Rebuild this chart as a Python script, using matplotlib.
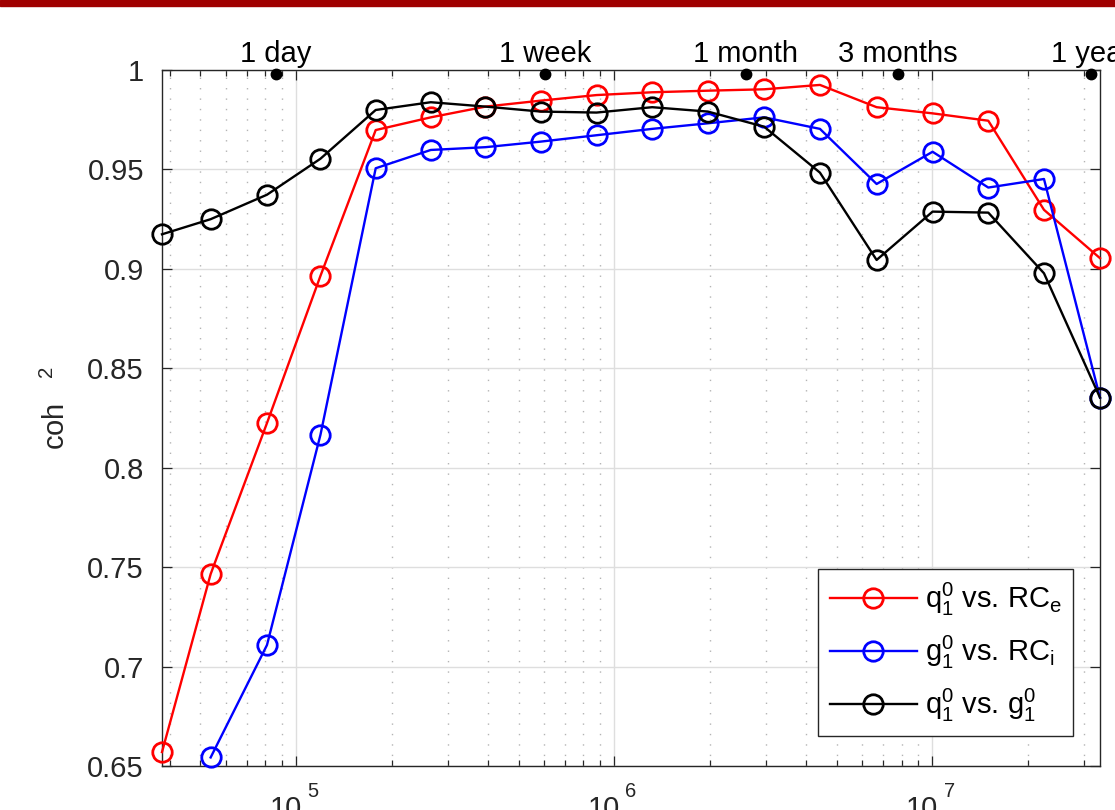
import matplotlib
matplotlib.use("Agg")
import matplotlib.pyplot as plt
import matplotlib.transforms as mtransforms
import numpy as np
from matplotlib.patches import Rectangle
from matplotlib.ticker import LogLocator, NullFormatter, NullLocator

# Périodes des bandes (s)
periodes = [37860, 53840, 80940, 119200, 177800, 264900, 393600, 587300,
            879100, 1315000, 1968000, 2958000, 4430000, 6676000,
            10010000, 14980000, 22420000, 33630000]

# Cohérence au carré pour chaque couple
coh_q_rce = [0.657, 0.7465, 0.8224, 0.8964, 0.9697, 0.9761, 0.9815, 0.9845,
             0.9873, 0.9887, 0.9895, 0.9902, 0.9924, 0.9812, 0.9781, 0.9744,
             0.9296, 0.9053]
coh_g_rci = [np.nan, 0.6543, 0.7108, 0.8165, 0.9505, 0.9597, 0.9611, 0.9639,
             0.9671, 0.9703, 0.9731, 0.9761, 0.9703, 0.9426, 0.9588, 0.9408,
             0.9451, 0.8352]
coh_q_g = [0.9173, 0.9249, 0.9372, 0.9553, 0.9798, 0.9837, 0.9815, 0.9790,
           0.9785, 0.9812, 0.9790, 0.9714, 0.9483, 0.9044, 0.9287, 0.9282,
           0.8977, 0.8352]

noms_series = [r"$q_1^0$ vs. RC$_e$", r"$g_1^0$ vs. RC$_i$", r"$q_1^0$ vs. $g_1^0$"]
couleurs = ["#ff0000", "#0000ff", "#000000"]

# Repères temporels en haut du graphique
reperes_temps = [86400, 604800, 2592000, 7776000, 31536000]
reperes_noms = ["1 day", "1 week", "1 month", "3 months", "1 year"]

yticks = [0.65, 0.7, 0.75, 0.8, 0.85, 0.9, 0.95, 1.0]
ytick_labels = ["0.65", "0.7", "0.75", "0.8", "0.85", "0.9", "0.95", "1"]
xticks = [1e5, 1e6, 1e7]
xtick_exposants = ["5", "6", "7"]

plt.rcParams["font.family"] = ["Liberation Sans", "DejaVu Sans"]
plt.rcParams["mathtext.fontset"] = "custom"
plt.rcParams["mathtext.rm"] = "Liberation Sans"
plt.rcParams["mathtext.it"] = "Liberation Sans:italic"
plt.rcParams["mathtext.default"] = "regular"

gris = "#262626"
taille = 21

fig = plt.figure(figsize=(11.15, 8.1), dpi=100)
ax = fig.add_axes([0.14529, 0.05432, 0.84126, 0.85951])

# Bandeau rouge en haut
fig.patches.append(Rectangle((0, 1 - 6 / 810), 1, 6 / 810, transform=fig.transFigure,
                             color="#a00000", zorder=10))

for serie, nom, c in zip([coh_q_rce, coh_g_rci, coh_q_g], noms_series, couleurs):
    ax.plot(periodes, serie, "-o", color=c, lw=1.7, ms=14, mfc="none", mew=2.0,
            clip_on=False, label=nom, zorder=3)

ax.set_xscale("log")
ax.set_xlim(periodes[0], periodes[-1])
ax.set_ylim(0.65, 1.0)
ax.set_xticks(xticks, labels=["10"] * len(xticks))
ax.set_yticks(yticks, labels=ytick_labels)
ax.xaxis.set_minor_locator(LogLocator(base=10, subs=np.arange(2, 10)))
ax.xaxis.set_minor_formatter(NullFormatter())
ax.yaxis.set_minor_locator(NullLocator())

ax.tick_params(which="both", direction="in", top=True, right=True, colors=gris,
               labelsize=taille, width=0.9)
ax.tick_params(which="major", length=7)
ax.tick_params(which="minor", length=4)
ax.tick_params(axis="y", pad=13)
ax.tick_params(axis="x", pad=21)

# "10" décalé à gauche, exposant à part (style MATLAB)
decalage = mtransforms.ScaledTranslation(-7.5 / 72, 0, fig.dpi_scale_trans)
for lbl in ax.get_xticklabels():
    lbl.set_transform(lbl.get_transform() + decalage)
trans = ax.get_xaxis_transform()
for t, e in zip(xticks, xtick_exposants):
    ax.annotate(e, xy=(t, 0), xycoords=trans, xytext=(12, -11.5),
                textcoords="offset points", ha="center", va="top",
                fontsize=14.5, color=gris, annotation_clip=False)

ax.grid(True, which="major", color="#dedede", lw=1.0)
ax.grid(True, which="minor", axis="x", color="#b4b4b4", lw=1.0, ls=(0, (1, 6.5)))
ax.set_axisbelow(True)
for s in ax.spines.values():
    s.set_color(gris)
    s.set_linewidth(1.0)

# Repères : points noirs et étiquettes
for t, nom in zip(reperes_temps, reperes_noms):
    ax.plot(t, 0.9978, "o", color="k", ms=7.5, clip_on=False, zorder=4)
    ax.text(t, 1.0112, nom, transform=trans, ha="center", va="baseline",
            fontsize=taille, color="k")

ax.set_ylabel(r"coh   $^{2}$", fontsize=taille, color=gris)
ax.yaxis.set_label_coords(-0.097, 0.514)

leg = ax.legend(loc="lower right", bbox_to_anchor=(0.9712, 0.0431), borderaxespad=0,
                fancybox=False, edgecolor=gris, framealpha=1, fontsize=taille,
                handlelength=3.0, handletextpad=0.25, labelspacing=0.55, borderpad=0.4)
leg.get_frame().set_linewidth(1.0)

fig.savefig("out.png", dpi=100)
